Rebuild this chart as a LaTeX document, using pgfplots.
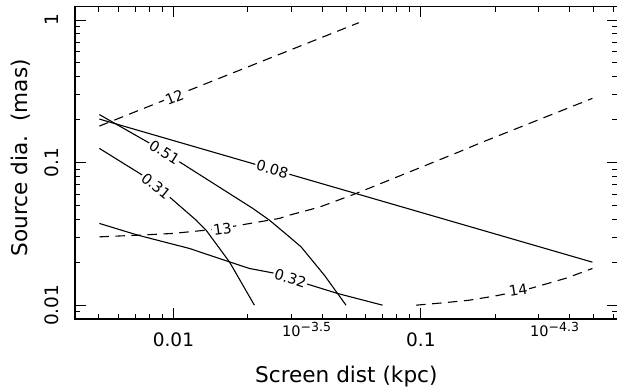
\documentclass[border=0pt]{standalone}
\usepackage{pgfplots}
\pgfplotsset{compat=1.18}
\usepackage{fontspec}
\setmainfont{DejaVu Sans}
\newcommand{\lblfont}{\fontsize{14.5bp}{16bp}\selectfont}
\newcommand{\supr}[1]{\raisebox{5.5bp}{\fontsize{12.5bp}{13bp}\selectfont #1}}
\begin{document}
\begin{tikzpicture}
\begin{axis}[
  scale only axis, width=542.7bp, height=312.8bp,
  xmode=log, ymode=log,
  xmin=0.004, xmax=0.625, ymin=0.008, ymax=1.25,
  xtick={0.01,0.1}, xticklabels={0.01,0.1},
  ytick={0.01,0.1,1}, yticklabels={0.01,0.1,1},
  minor xtick={0.005,0.006,0.007,0.008,0.009,0.02,0.03,0.04,0.05,0.06,0.07,0.08,0.09,0.2,0.3,0.4,0.5,0.6},
  minor ytick={0.009,0.02,0.03,0.04,0.05,0.06,0.07,0.08,0.09,0.2,0.3,0.4,0.5,0.6,0.7,0.8,0.9},
  tick align=inside, tick pos=both,
  major tick length=11bp, minor tick length=5.5bp,
  every tick/.style={black, line width=1bp},
  axis line style={line width=1.2bp},
  /pgf/number format/assume math mode=true,
  xticklabel style={anchor=north, inner sep=0pt, font=\fontsize{18.5bp}{20bp}\selectfont},
  yticklabel style={rotate=90, anchor=south, inner sep=0pt, font=\fontsize{18.5bp}{20bp}\selectfont},
  xticklabel shift=14bp, yticklabel shift=16bp,
  xlabel={Screen dist (kpc)},
  ylabel={Source dia.\ \ (mas)},
  xlabel style={at={(axis description cs:0.5,-0.2045)}, anchor=base, inner sep=0pt, font=\fontsize{21.6bp}{24bp}\selectfont},
  ylabel style={at={(axis description cs:-0.0866,0.516)}, anchor=base, inner sep=0pt, font=\fontsize{21.6bp}{24bp}\selectfont},
  clip=false,
  cycle list={{black,solid,mark=none}},
]
% 12 (dashed)
\addplot[black, mark=none, line width=1.1bp, dash pattern=on 9.5bp off 6.5bp] coordinates {(0.00502,0.1804) (0.0561,0.957)};
% 13 (dashed)
\addplot[black, mark=none, line width=1.1bp, dash pattern=on 9.5bp off 6.5bp] coordinates {
 (0.00502,0.03015) (0.00729,0.0310) (0.0099,0.03184) (0.01359,0.0336)
 (0.01764,0.03585) (0.02681,0.0406) (0.02942,0.0428) (0.0389,0.0487)
 (0.05487,0.0608) (0.1431,0.1191) (0.1723,0.1364) (0.494,0.2822)};
% 14 (dashed)
\addplot[black, mark=none, line width=1.1bp, dash pattern=on 9.5bp off 6.5bp] coordinates {
 (0.0957,0.01) (0.1245,0.01041) (0.157,0.01084) (0.198,0.01157)
 (0.2386,0.01234) (0.2796,0.01316) (0.3872,0.01547) (0.494,0.0181)};
% 0.08
\addplot[black, solid, mark=none, line width=1.1bp] coordinates {(0.00502,0.2019) (0.494,0.02003)};
% 0.51
\addplot[black, solid, mark=none, line width=1.1bp] coordinates {
 (0.00502,0.2172) (0.0080,0.137) (0.01057,0.1013) (0.02085,0.04794)
 (0.02443,0.0395) (0.02942,0.03015) (0.03281,0.02565) (0.04074,0.01624) (0.04985,0.01)};
% 0.31
\addplot[black, solid, mark=none, line width=1.1bp] coordinates {
 (0.00502,0.1258) (0.00749,0.0817) (0.00963,0.0575)
 (0.01235,0.0395) (0.01355,0.0336) (0.01684,0.02013) (0.02125,0.01)};
% 0.32
\addplot[black, solid, mark=none, line width=1.1bp] coordinates {
 (0.00502,0.03745) (0.00717,0.0310) (0.0116,0.025) (0.01684,0.02013)
 (0.02028,0.0181) (0.02519,0.01685) (0.03488,0.01404) (0.04611,0.01208) (0.07008,0.01)};
% contour labels
\begin{scope}[every node/.style={fill=white, inner sep=1.5bp, font=\lblfont}]
\node[rotate=21.7] at (axis cs:0.01009,0.2882) {12};
\node[rotate=-32] at (axis cs:0.0092,0.1185) {0.51};
\node[rotate=-16] at (axis cs:0.02512,0.09) {0.08};
\node[rotate=-39] at (axis cs:0.0085,0.0684) {0.31};
\node[rotate=-18] at (axis cs:0.0297,0.01547) {0.32};
\node[rotate=8] at (axis cs:0.01578,0.0341) {13};
\node[rotate=9] at (axis cs:0.2477,0.01274) {14};
\end{scope}
\node[anchor=base west, inner sep=0pt, font=\lblfont] at (axis description cs:0.3814,-0.0575) {10\supr{−3.5}};
\node[anchor=base west, inner sep=0pt, font=\lblfont] at (axis description cs:0.8384,-0.0575) {10\supr{−4.3}};
\end{axis}
\pgfresetboundingbox
\path[use as bounding box] ([xshift=-75bp,yshift=-72bp]current axis.south west) rectangle ([xshift=-0.7bp,yshift=6.2bp]current axis.north east);
\end{tikzpicture}
\end{document}
